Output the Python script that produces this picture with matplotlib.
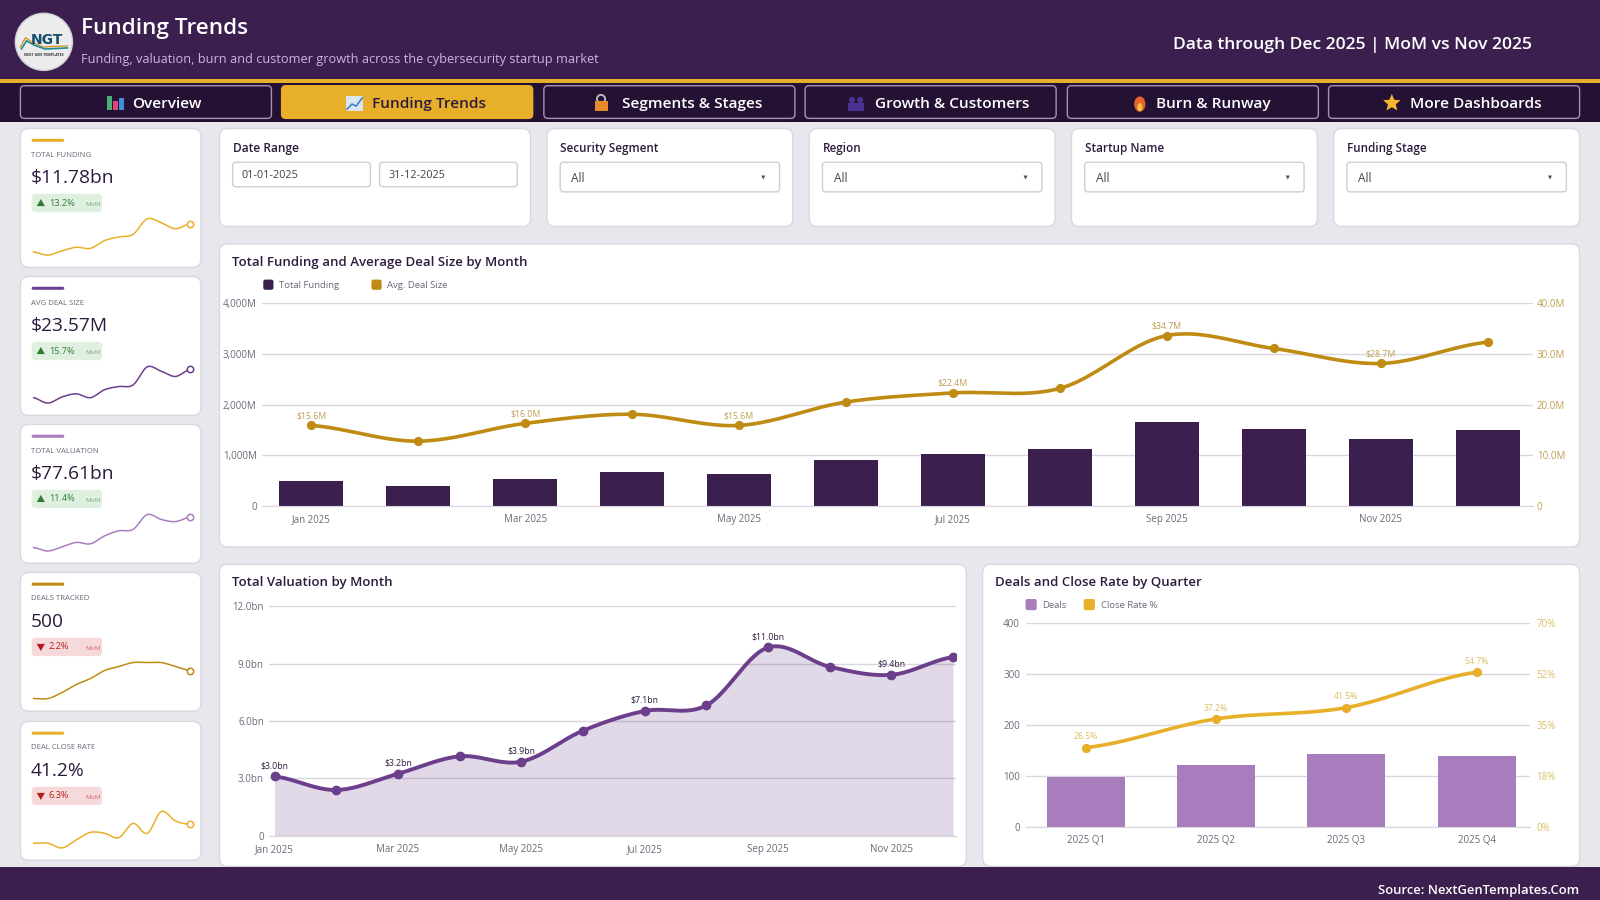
import numpy as np
import matplotlib
matplotlib.use("Agg")
import matplotlib.pyplot as plt
from matplotlib.patches import FancyBboxPatch, Rectangle, Circle, Polygon, Ellipse

plt.rcParams["font.family"] = ["Open Sans", "DejaVu Sans"]

# ======================================================
# Data
# ======================================================

months = ["Jan 2025", "Feb 2025", "Mar 2025", "Apr 2025", "May 2025", "Jun 2025",
          "Jul 2025", "Aug 2025", "Sep 2025", "Oct 2025", "Nov 2025", "Dec 2025"]

funding = [500, 388, 540, 664, 625, 901, 1026, 1118, 1664, 1526, 1316, 1493]
deal_size = [15.9, 12.8, 16.3, 18.1, 15.9, 20.5, 22.3, 23.2, 33.6, 31.05, 28.1, 32.3]
deal_labels = ["$15.6M", "", "$16.0M", "", "$15.6M", "", "$22.4M", "", "$34.7M", "", "$28.7M", ""]

valuation = [3.1, 2.39, 3.24, 4.15, 3.87, 5.49, 6.52, 6.81, 9.84, 8.83, 8.41, 9.34]
valuation_labels = ["$3.0bn", "", "$3.2bn", "", "$3.9bn", "", "$7.1bn", "", "$11.0bn", "", "$9.4bn", ""]

quarters = ["2025 Q1", "2025 Q2", "2025 Q3", "2025 Q4"]
deals_q = [98, 121, 142, 139]
close_rate = [27.2, 37.1, 41, 53.2]
close_labels = ["26.5%", "37.2%", "41.5%", "54.7%"]

deals_m = [30, 30, 33, 37, 40, 44, 46, 48, 48, 48, 46, 44]
close_m = [25.8, 25.8, 22, 28.5, 34.7, 33.9, 30.4, 42, 33.9, 51.7, 43.9, 41.2]

kpi_names = ["TOTAL FUNDING", "AVG DEAL SIZE", "TOTAL VALUATION", "DEALS TRACKED", "DEAL CLOSE RATE"]
kpi_values = ["$11.78bn", "$23.57M", "$77.61bn", "500", "41.2%"]
kpi_changes = ["13.2%", "15.7%", "11.4%", "2.2%", "6.3%"]
kpi_up = [True, True, True, False, False]

tabs = ["Overview", "Funding Trends", "Segments & Stages", "Growth & Customers", "Burn & Runway", "More Dashboards"]
filters = ["Security Segment", "Region", "Startup Name", "Funding Stage"]

# ======================================================
# Setup
# ======================================================

HEADER = "#3B1F4F"
NAV = "#241133"
GOLD = "#E8B02A"
DARK_GOLD = "#BF8B12"
PURPLE = "#6B3F8C"
LILAC = "#A87DBE"
BG = "#E9E7EE"
GRID = "#D9D6E0"
INK = "#2D1B3D"
MUTED = "#6F6678"
SOFT_GOLD = "#BFA050"
PALE_GOLD = "#DDBE62"
W, H = 1568, 882

fig = plt.figure(figsize=(16, 9), dpi=100, facecolor=BG)
page = fig.add_axes([0, 0, 1, 1])
page.set_xlim(0, W)
page.set_ylim(H, 0)
page.axis("off")


def px_axes(x0, y0, x1, y1):
    ax = fig.add_axes([x0 / W, 1 - y1 / H, (x1 - x0) / W, (y1 - y0) / H])
    ax.patch.set_alpha(0)
    return ax


def box(x, y, w, h, color, edge="none", r=6, lw=1.0, z=1):
    page.add_patch(FancyBboxPatch((x + r, y + r), w - 2 * r, h - 2 * r,
                                  boxstyle=f"round,pad={r},rounding_size={r}",
                                  fc=color, ec=edge, lw=lw, zorder=z))


def txt(x, y, s, size, color=INK, weight="normal", ha="left", z=5, alpha=1.0):
    page.text(x, y + 1.5, s, fontsize=size, color=color, fontweight=weight,
              ha=ha, va="center", zorder=z, alpha=alpha)


def smooth(y, n=24):
    # catmull-rom through the read values, only for drawing the curve
    y = np.asarray(y, dtype=float)
    p = np.concatenate([[y[0]], y, [y[-1]]])
    xs, ys = [], []
    for i in range(1, len(p) - 2):
        t = np.linspace(0, 1, n, endpoint=False)
        ys.append(0.5 * (2 * p[i] + (p[i + 1] - p[i - 1]) * t
                         + (2 * p[i - 1] - 5 * p[i] + 4 * p[i + 1] - p[i + 2]) * t ** 2
                         + (3 * p[i] - p[i - 1] - 3 * p[i + 1] + p[i + 2]) * t ** 3))
        xs.append(i - 1 + t)
    xs.append([len(y) - 1])
    ys.append([y[-1]])
    return np.concatenate(xs), np.concatenate(ys)


def style_axis(ax, color=MUTED):
    ax.spines[["top", "left", "right"]].set_visible(False)
    ax.spines["bottom"].set_color(GRID)
    ax.tick_params(length=0, labelsize=7, labelcolor=color)
    ax.set_axisbelow(True)
    ax.grid(axis="y", color=GRID, lw=1)
    ax.grid(axis="x", visible=False)


# ======================================================
# Header and tabs
# ======================================================

page.add_patch(Rectangle((0, 0), W, 77, fc=HEADER, zorder=1))
page.add_patch(Rectangle((0, 77), W, 4, fc=GOLD, zorder=2))
page.add_patch(Rectangle((0, 81), W, 39, fc=NAV, zorder=1))
page.add_patch(Rectangle((0, 850), W, 32, fc=HEADER, zorder=1))

page.add_patch(Circle((43, 41), 28, fc="#ECECEC", ec="#CFCFD4", lw=1, zorder=3))
page.text(46, 39, "NGT", fontsize=10, color="#14506B", fontweight="bold", ha="center", va="center",
          family="DejaVu Sans", zorder=5)
page.plot([20, 25, 31, 42, 66], [46, 37, 41, 46, 45], color="#D99A2B", lw=1, zorder=4)
page.plot([21, 26, 33, 44, 66], [48, 40, 44, 48, 47], color="#1E8C96", lw=1.2, zorder=4)
txt(43, 52, "NEXT GEN TEMPLATES", 2.6, "#333333", "bold", ha="center")

txt(79, 26, "Funding Trends", 16.2, "white", "semibold")
txt(79, 57, "Funding, valuation, burn and customer growth across the cybersecurity startup market", 9.2, "#CDB5DC")
txt(1501, 43, "Data through Dec 2025 | MoM vs Nov 2025", 12.6, "white", "semibold", ha="right")
txt(1548, 871, "Source: NextGenTemplates.Com", 9.4, "white", "semibold", ha="right")

tab_x = [20, 276, 533, 789, 1046, 1302]
tab_text_x = [163, 420, 678, 933, 1189, 1446]
for i, name in enumerate(tabs):
    active = i == 1
    box(tab_x[i], 84, 246, 32, GOLD if active else NAV, edge=GOLD if active else "#A98FC0", r=4, lw=1, z=3)
    txt(tab_text_x[i], 100, name, 11.1, INK if active else "white", "semibold", ha="center")

# tab icons
for x, h, c in zip([105, 111, 117], [14, 9, 12], ["#4CAF7A", "#E0457B", "#3F8FD8"]):
    page.add_patch(Rectangle((x, 108 - h), 5, h, fc=c, zorder=5))
page.add_patch(Rectangle((339, 94), 17, 15, fc="#DCE6F2", zorder=5))
page.plot([340, 345, 349, 355], [107, 102, 104, 96], color="#3F7FD0", lw=1.2, zorder=6)
page.add_patch(Rectangle((583, 99), 13, 10, fc="#E88B2E", zorder=5))
page.add_patch(Circle((589, 97), 4, fc="none", ec="#B9B9B9", lw=1.4, zorder=4))
for x in [835, 843]:
    page.add_patch(Circle((x, 98), 3, fc="#4A3290", zorder=5))
    page.add_patch(Rectangle((x - 4, 101), 8, 8, fc="#4A3290", zorder=5))
page.add_patch(Ellipse((1117, 102), 11, 15, fc="#E8622A", zorder=5))
page.add_patch(Ellipse((1117, 105), 5, 8, fc="#F7C04A", zorder=6))
star = np.deg2rad(np.arange(0, 360, 36) - 90)
rad = np.array([9, 4] * 5)
page.add_patch(Polygon(np.c_[1364 + rad * np.cos(star), 101 + rad * np.sin(star)], fc="#F5B82E", zorder=5))

# ======================================================
# KPI cards
# ======================================================

card_y = [126, 271, 416, 561, 707]
spark_color = [GOLD, PURPLE, LILAC, DARK_GOLD, GOLD]
bar_color = [GOLD, PURPLE, LILAC, DARK_GOLD, GOLD]
spark_data = [funding, deal_size, valuation, deals_m, close_m]

for i, y in enumerate(card_y):
    box(20, y, 177, 136, "white", edge="#DAD7E0", r=8)
    page.add_patch(FancyBboxPatch((31, y + 10), 32, 3, boxstyle="round,pad=0,rounding_size=1.5",
                                  fc=bar_color[i], ec="none", zorder=3))
    txt(30, y + 24.5, kpi_names[i], 5.6, MUTED)
    txt(30, y + 47, kpi_values[i], 13.8, INK, "medium")
    up = kpi_up[i]
    box(31, y + 64, 69, 18, "#DFF0E1" if up else "#F6D9DA", r=4, z=2)
    c = "#2E7D32" if up else "#B71C1C"
    tri = [(36, y + 76), (44, y + 76), (40, y + 69)] if up else [(36, y + 70), (44, y + 70), (40, y + 77)]
    page.add_patch(Polygon(tri, fc=c, zorder=4))
    txt(48, y + 71.5, kpi_changes[i], 6.6, c)
    txt(84, y + 73, "MoM", 4.6, c, alpha=0.6)

    ax = px_axes(33, y + 88, 186, y + 124)
    xs, ys = smooth(spark_data[i])
    ax.plot(xs, ys, color=spark_color[i], lw=1.1)
    ax.plot([11], [spark_data[i][-1]], "o", ms=4.6, mfc="white", mec=spark_color[i], mew=1.1, clip_on=False)
    ax.set_xlim(0, 11)
    ax.set_ylim(min(ys), max(ys))
    ax.axis("off")
    for line in ax.lines:
        line.set_clip_on(False)

# ======================================================
# Filter cards
# ======================================================

box(215, 126, 305, 96, "white", edge="#DAD7E0", r=8)
txt(228, 144.5, "Date Range", 8.6, INK, "semibold")
for x, s in zip([228, 372], ["01-01-2025", "31-12-2025"]):
    box(x, 159, 135, 24, "white", edge="#CFCCD6", r=3, z=2)
    txt(x + 9, 170, s, 7.8, "#444444")

for x, name in zip([536, 793, 1050, 1307], filters):
    box(x, 126, 241, 96, "white", edge="#DAD7E0", r=8)
    txt(x + 13, 144.5, name, 8.4, INK, "semibold")
    box(x + 13, 159, 215, 29, "white", edge="#CFCCD6", r=3, z=2)
    txt(x + 24, 173, "All", 8.6, "#444444")
    page.add_patch(Polygon([(x + 210, 172), (x + 214, 172), (x + 212, 176)], fc="#555555", zorder=4))

# ======================================================
# Funding chart
# ======================================================

box(215, 239, 1333, 297, "white", edge="#DAD7E0", r=8)
txt(227, 255.5, "Total Funding and Average Deal Size by Month", 9.5, INK, "semibold")
box(258, 274, 10, 10, HEADER, r=2, z=3)
txt(273, 278.5, "Total Funding", 6.8, MUTED)
box(364, 274, 10, 10, DARK_GOLD, r=2, z=3)
txt(379, 278.5, "Avg. Deal Size", 6.8, MUTED)

ax = px_axes(257, 297, 1502, 496)
x = np.arange(12)
ax.bar(x, funding, width=0.6, color=HEADER)
style_axis(ax)
ax.set_xlim(-0.458, 11.42)
ax.set_ylim(0, 4000)
ax.set_yticks([0, 1000, 2000, 3000, 4000], ["0", "1,000M", "2,000M", "3,000M", "4,000M"])
ax.set_xticks(x[::2], months[::2])
ax.tick_params(axis="x", pad=6)
ax.tick_params(axis="y", pad=4)

ax2 = ax.twinx()
ax2.patch.set_alpha(0)
xs, ys = smooth(deal_size)
ax2.plot(xs, ys, color=DARK_GOLD, lw=2.6)
ax2.plot(x, deal_size, "o", color=DARK_GOLD, ms=5.6)
ax2.set_ylim(0, 40)
ax2.set_yticks([0, 10, 20, 30, 40], ["0", "10.0M", "20.0M", "30.0M", "40.0M"])
ax2.tick_params(length=0, labelsize=7, labelcolor=SOFT_GOLD, pad=3)
ax2.spines[["top", "left", "right", "bottom"]].set_visible(False)
for i, s in enumerate(deal_labels):
    if s:
        ax2.annotate(s, (i, deal_size[i]), xytext=(0, 5), textcoords="offset points",
                     ha="center", fontsize=6.3, color=SOFT_GOLD)

# ======================================================
# Valuation chart
# ======================================================

box(215, 553, 732, 296, "white", edge="#DAD7E0", r=8)
txt(227, 569.5, "Total Valuation by Month", 9.5, INK, "semibold")

ax = px_axes(264, 594, 937, 819)
xs, ys = smooth(valuation)
style_axis(ax)
ax.fill_between(xs, ys, color=PURPLE, alpha=0.2, lw=0, zorder=2)
ax.plot(xs, ys, color=PURPLE, lw=2.8, zorder=3)
ax.plot(x, valuation, "o", color=PURPLE, ms=6, zorder=4)
ax.set_xlim(-0.083, 11.05)
ax.set_ylim(0, 12)
ax.set_yticks([0, 3, 6, 9, 12], ["0", "3.0bn", "6.0bn", "9.0bn", "12.0bn"])
ax.set_xticks(x[::2], months[::2])
ax.tick_params(axis="x", pad=6)
ax.tick_params(axis="y", pad=4)
for i, s in enumerate(valuation_labels):
    if s:
        ax.annotate(s, (i, valuation[i]), xytext=(0, 6), textcoords="offset points",
                    ha="center", fontsize=6.3, color=INK, zorder=5)

# ======================================================
# Quarter chart
# ======================================================

box(963, 553, 585, 296, "white", edge="#DAD7E0", r=8)
txt(975, 569.5, "Deals and Close Rate by Quarter", 9.5, INK, "semibold")
box(1005, 587, 11, 11, LILAC, r=2, z=3)
txt(1021, 591.5, "Deals", 6.8, MUTED)
box(1062, 587, 11, 11, GOLD, r=2, z=3)
txt(1079, 591.5, "Close Rate %", 6.8, MUTED)

ax = px_axes(1005, 611, 1499, 810)
xq = np.arange(4)
ax.bar(xq, deals_q, width=0.6, color=LILAC)
style_axis(ax)
ax.set_xlim(-0.462, 3.406)
ax.set_ylim(0, 400)
ax.set_yticks([0, 100, 200, 300, 400])
ax.set_xticks(xq, quarters)
ax.tick_params(axis="x", pad=6)
ax.tick_params(axis="y", pad=4)

ax2 = ax.twinx()
ax2.patch.set_alpha(0)
xs, ys = smooth(close_rate)
ax2.plot(xs, ys, color=GOLD, lw=2.6)
ax2.plot(xq, close_rate, "o", color=GOLD, ms=5.6)
ax2.set_ylim(0, 70)
ax2.set_yticks([0, 17.5, 35, 52.5, 70], ["0%", "18%", "35%", "52%", "70%"])
ax2.tick_params(length=0, labelsize=7, labelcolor=PALE_GOLD, pad=5)
ax2.spines[["top", "left", "right", "bottom"]].set_visible(False)
for i, s in enumerate(close_labels):
    ax2.annotate(s, (i, close_rate[i]), xytext=(0, 6), textcoords="offset points",
                 ha="center", fontsize=6.3, color=PALE_GOLD)

fig.savefig("out.png", dpi=100, facecolor=BG)
